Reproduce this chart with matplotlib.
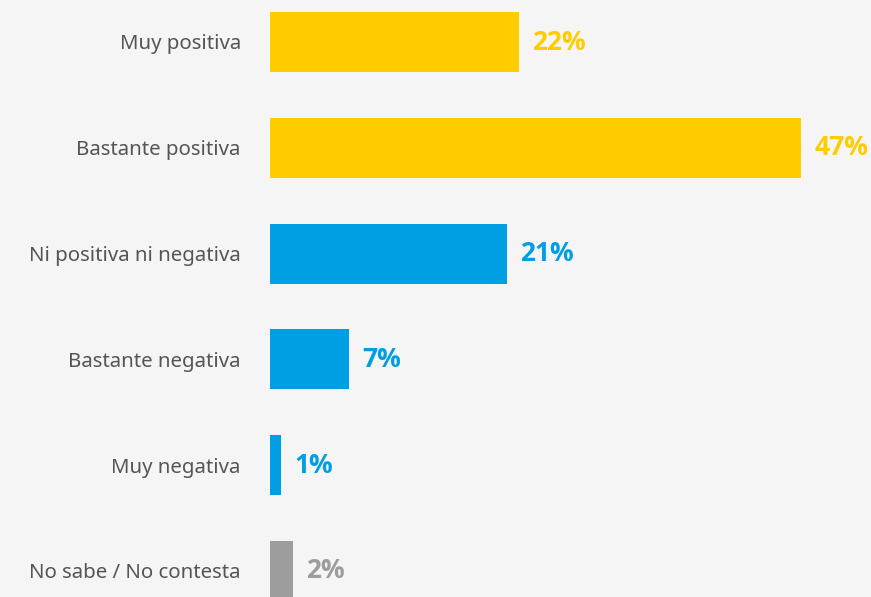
import matplotlib
matplotlib.use("Agg")
import matplotlib.pyplot as plt

categories = ["Muy positiva", "Bastante positiva", "Ni positiva ni negativa",
              "Bastante negativa", "Muy negativa", "No sabe / No contesta"]
values = [22, 47, 21, 7, 1, 2]
colors = ["#FFCC00", "#FFCC00", "#009FE3", "#009FE3", "#009FE3", "#9D9D9D"]

bg = "#F5F5F5"
plt.rcParams["font.family"] = ["Noto Sans", "DejaVu Sans"]

fig = plt.figure(figsize=(8.71, 5.97), dpi=100, facecolor=bg)
ax = fig.add_axes([270 / 871, 0, 601 / 871, 1])
ax.set_facecolor(bg)

pos = list(range(len(categories)))
ax.barh(pos, values, height=0.567, color=colors)

# value labels in bold
for i, v in enumerate(values):
    ax.text(v + 1.15, i, f"{v}%", va="center", ha="left", fontsize=19,
            fontweight="bold", color=colors[i],
            family=["Open Sans", "DejaVu Sans"])

ax.set_xlim(0, 601 / 11.3)
ax.set_ylim((597 - 42) / 105.8, -42 / 105.8)
ax.set_yticks(pos)
ax.set_yticklabels(categories, fontsize=14.7, color="#555555")
ax.tick_params(axis="y", length=0, pad=21)
ax.set_xticks([])
for s in ax.spines.values():
    s.set_visible(False)

fig.savefig("out.png", dpi=100, facecolor=bg)
